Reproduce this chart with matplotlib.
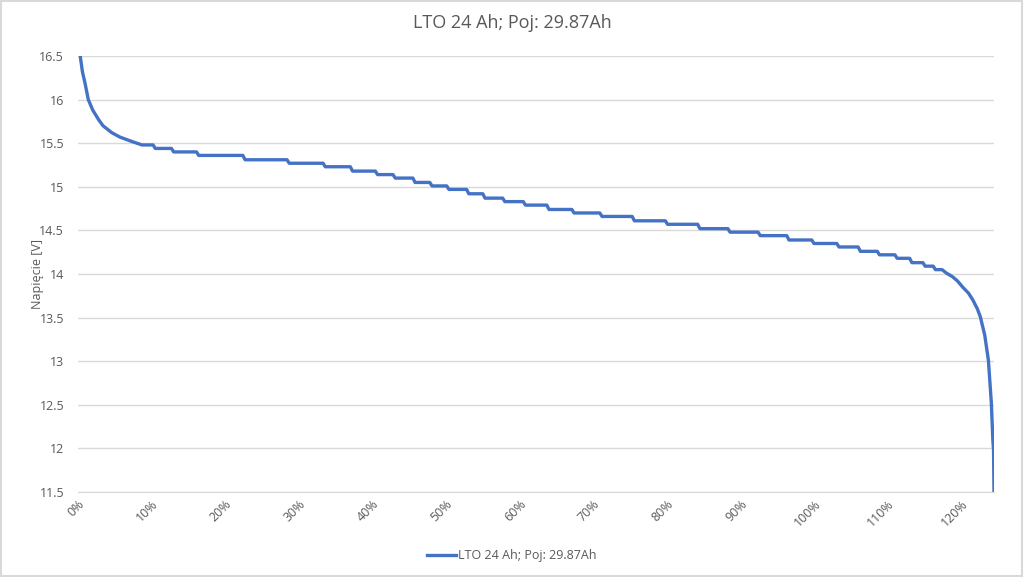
#!/usr/bin/env python3
"""
Discharge curve of an LTO 24 Ah pack: voltage vs. delivered capacity (% of nominal).
"""

import matplotlib
matplotlib.use('Agg')
import matplotlib.pyplot as plt
from matplotlib.patches import Rectangle
from matplotlib.ticker import FuncFormatter, MultipleLocator

TITLE = 'LTO 24 Ah; Poj: 29.87Ah'
Y_LABEL = 'Napięcie [V]'
X_MAX = 124.46  # 29.87 Ah / 24 Ah

# initial drop (capacity %, voltage)
head_pct = [0.0, 0.3, 0.6, 0.95, 1.4, 2.0, 2.8, 3.4, 4.6, 5.7, 7.3]
head_volt = [16.75, 16.50, 16.32, 16.19, 16.00, 15.88, 15.77, 15.70, 15.62, 15.57, 15.52]

# plateau: voltage is quantised, so it goes down in steps (start of each step, level)
step_pct = [8.4, 10.2, 12.7, 16.1, 22.4, 28.4, 33.3, 37.0, 40.4, 42.8,
            45.5, 47.8, 50.1, 52.8, 55.0, 57.7, 60.5, 63.7, 67.1, 70.9,
            75.3, 79.8, 84.2, 88.3, 92.4, 96.3, 99.7, 103.1, 106.0, 108.6,
            111.0, 113.0, 114.8, 116.2]
step_volt = [15.48, 15.44, 15.40, 15.36, 15.31, 15.27, 15.23, 15.18, 15.14, 15.10,
             15.05, 15.01, 14.97, 14.92, 14.87, 14.83, 14.79, 14.74, 14.70, 14.66,
             14.61, 14.57, 14.52, 14.48, 14.44, 14.39, 14.35, 14.31, 14.26, 14.22,
             14.18, 14.13, 14.09, 14.05]

# end of discharge knee
tail_pct = [117.4, 118.0, 118.8, 119.5, 120.2, 121.0, 121.6, 122.2, 122.6,
            123.2, 123.7, 124.1, 124.3, 124.4, 124.46]
tail_volt = [14.05, 14.01, 13.97, 13.92, 13.85, 13.78, 13.70, 13.60, 13.51,
             13.30, 13.01, 12.52, 12.10, 11.98, 11.50]

GRAY_TXT = '#595959'
GRID = '#d9d9d9'
LINE = '#4472C4'


def build_curve():
    xs = list(head_pct)
    ys = list(head_volt)
    ends = step_pct[1:] + [tail_pct[0]]
    for start, end, v in zip(step_pct, ends, step_volt):
        # small slant on each step edge, like the original trace
        xs += [start + 0.3, end]
        ys += [v, v]
    xs += tail_pct[1:]
    ys += tail_volt[1:]
    return xs, ys


def main():
    plt.rcParams['font.family'] = ['Open Sans', 'DejaVu Sans']

    fig = plt.figure(figsize=(10.24, 5.77), dpi=100)
    ax = fig.add_axes([78 / 1024, 1 - 492 / 577, (994 - 78) / 1024, (492 - 56) / 577])

    xs, ys = build_curve()
    ax.plot(xs, ys, color=LINE, lw=2.4, label=TITLE, solid_joinstyle='round')

    ax.set_xlim(0, X_MAX)
    ax.set_ylim(11.5, 16.5)
    ax.yaxis.set_major_locator(MultipleLocator(0.5))
    ax.yaxis.set_major_formatter(FuncFormatter(lambda v, p: f'{v:g}'))
    ax.xaxis.set_major_locator(MultipleLocator(10))
    ax.xaxis.set_major_formatter(FuncFormatter(lambda v, p: f'{v:.0f}%'))

    ax.grid(axis='y', color=GRID, lw=1.0)
    ax.set_axisbelow(True)
    for side in ['top', 'right', 'left']:
        ax.spines[side].set_visible(False)
    ax.spines['bottom'].set_color(GRID)
    ax.tick_params(axis='both', length=0, colors=GRAY_TXT, labelsize=9)
    ax.tick_params(axis='y', pad=10)
    ax.tick_params(axis='x', pad=4)
    for lab in ax.get_xticklabels():
        lab.set_rotation(45)
        lab.set_ha('right')
        lab.set_rotation_mode('anchor')

    ax.set_ylabel(Y_LABEL, color=GRAY_TXT, fontsize=9, labelpad=-3)
    fig.text(0.5, 1 - 23 / 577, TITLE, ha='center', va='center',
             color=GRAY_TXT, fontsize=13)

    fig.legend(loc='center', bbox_to_anchor=(512 / 1024, 1 - 556 / 577),
               frameon=False, fontsize=9, labelcolor=GRAY_TXT,
               handlelength=2.3, handletextpad=0.2)

    fig.patches.append(Rectangle((0.001, 0.002), 0.997, 0.996, transform=fig.transFigure,
                                 fill=False, edgecolor=GRID, lw=1.5))

    fig.savefig('out.png', dpi=100)


if __name__ == '__main__':
    main()
